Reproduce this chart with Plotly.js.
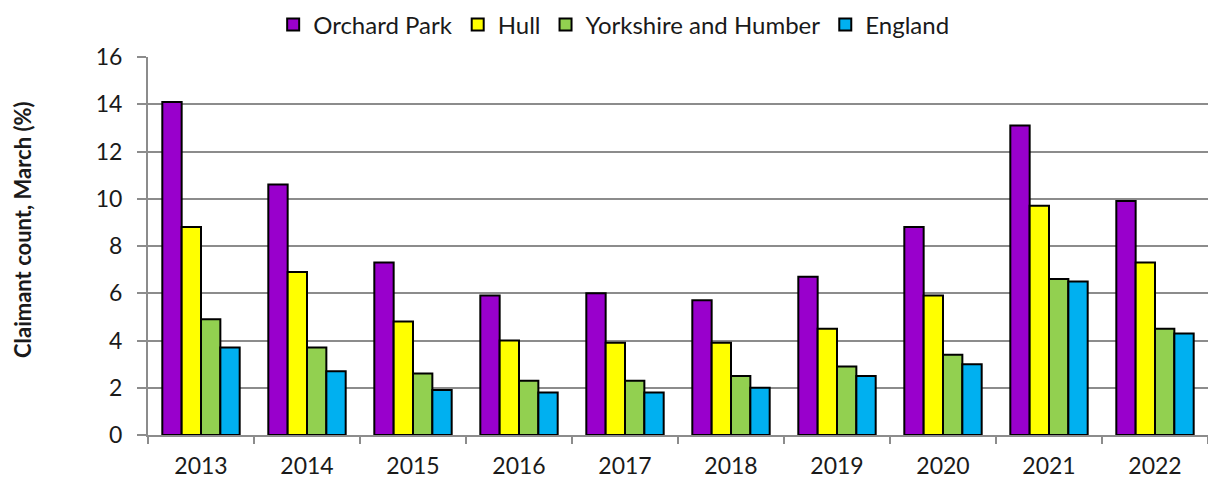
<!DOCTYPE html>
<html>
<head>
<meta charset="utf-8">
<script src="https://cdn.plot.ly/plotly-3.0.1.min.js"></script>
<style>html,body{margin:0;padding:0;background:#fff;}#chart{width:1208px;height:481px;}</style>
</head>
<body>
<div id="chart"></div>
<script>
const years = ["2013","2014","2015","2016","2017","2018","2019","2020","2021","2022"];
const orchardPark = [14.1, 10.6, 7.3, 5.9, 6.0, 5.7, 6.7, 8.8, 13.1, 9.9];
const hull = [8.8, 6.9, 4.8, 4.0, 3.9, 3.9, 4.5, 5.9, 9.7, 7.3];
const yorkshire = [4.9, 3.7, 2.6, 2.3, 2.3, 2.5, 2.9, 3.4, 6.6, 4.5];
const england = [3.7, 2.7, 1.9, 1.8, 1.8, 2.0, 2.5, 3.0, 6.5, 4.3];
const seriesNames = ["Orchard Park", "Hull", "Yorkshire and Humber", "England"];
const seriesColors = ["#9900CC", "#FFFF00", "#92D050", "#00B0F0"];
const seriesValues = [orchardPark, hull, yorkshire, england];
const yTitle = "Claimant count, March (%)";

const traces = seriesValues.map((vals, i) => ({
  type: "bar",
  name: seriesNames[i],
  x: years,
  y: vals,
  marker: {color: seriesColors[i], line: {color: "#000", width: 2}},
  hoverinfo: "x+y"
}));

const font = "Lato, 'Liberation Sans', sans-serif";
const txt = "#1a1a1a";
const layout = {
  width: 1208, height: 481,
  margin: {l: 148, r: 0, t: 57, b: 46},
  paper_bgcolor: "#fff", plot_bgcolor: "#fff",
  barmode: "group", bargap: 0.27, bargroupgap: 0,
  font: {family: font, size: 20, color: txt},
  showlegend: true,
  legend: {orientation: "h", xref: "container", x: 0.508, xanchor: "center", y: 0.995, yanchor: "top", yref: "container",
           font: {family: font, size: 24, color: txt}, traceorder: "normal", itemwidth: 30},
  xaxis: {type: "category", showline: true, linecolor: "#8c8c8c", linewidth: 2,
          ticks: "outside", tickson: "boundaries", ticklen: 7, tickwidth: 2, tickcolor: "#8c8c8c",
          ticklabelstandoff: 9,
          showgrid: false, tickfont: {family: font, size: 23, color: txt}, fixedrange: true},
  yaxis: {range: [0, 16], dtick: 2, showline: true, linecolor: "#8c8c8c", linewidth: 2,
          ticks: "outside", ticklen: 9, tickwidth: 2, tickcolor: "#8c8c8c",
          ticklabelstandoff: 10,
          showgrid: true, gridcolor: "#8c8c8c", gridwidth: 2, zeroline: false,
          tickfont: {family: font, size: 23, color: txt}},
  annotations: [{
    text: "<b>" + yTitle + "</b>", textangle: -90, showarrow: false,
    xref: "paper", yref: "paper", x: (22 - 148) / 1060, y: (435 - 230) / 378,
    xanchor: "center", yanchor: "middle",
    font: {family: font, size: 22, color: txt}
  }]
};

Plotly.newPlot("chart", traces, layout, {displayModeBar: false, staticPlot: true});
</script>
</body>
</html>
